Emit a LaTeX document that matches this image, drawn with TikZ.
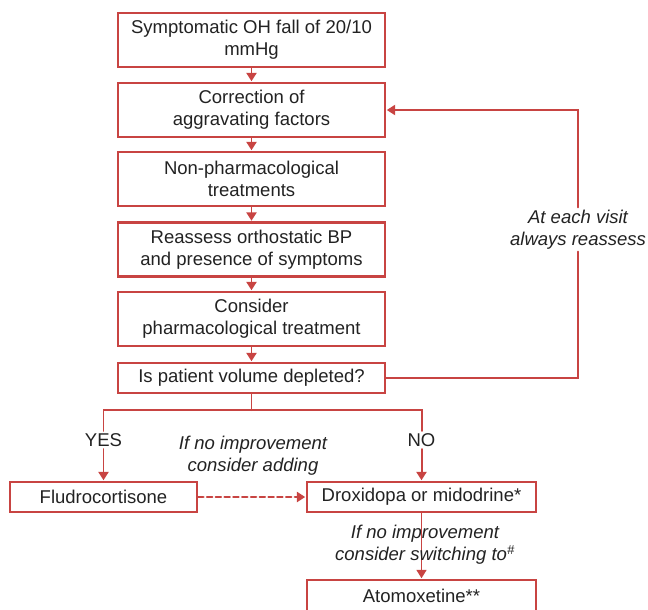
\documentclass[tikz,border=0pt]{standalone}
\usepackage{fontspec}
\setmainfont{Liberation Sans}
\usetikzlibrary{arrows.meta}
\definecolor{flowred}{RGB}{200,68,66}
\definecolor{flowtext}{RGB}{34,34,34}
\begin{document}
\begin{tikzpicture}[x=0.03cm,y=-0.03cm,line cap=round,
    box/.style={draw=flowred,line width=2pt,text=flowtext,align=center,
      inner sep=2pt,font=\fontsize{15.8}{18.8}\selectfont},
    link/.style={draw=flowred,line width=1.7pt},
    arr/.style={link,-{Triangle[length=0.25cm,width=0.3cm]},shorten >=0.5pt},
    note/.style={text=flowtext,align=center,inner sep=2pt,
      font=\fontsize{15.8}{18.8}\selectfont\itshape},
    tag/.style={text=flowtext,inner sep=2pt,font=\fontsize{15.8}{18.8}\selectfont}]
  \useasboundingbox (0,0) rectangle (648,609);
  % main column
  \node[box,minimum width=8.01cm,minimum height=1.62cm] (start) at (251.5,40)
    {Symptomatic OH fall of 20/10\\mmHg};
  \node[box,minimum width=8.01cm,minimum height=1.62cm] (correct) at (251.5,110)
    {Correction of\\aggravating factors};
  \node[box,minimum width=8.01cm,minimum height=1.62cm] (nonpharm) at (251.5,179)
    {Non-pharmacological\\treatments};
  \node[box,minimum width=8.01cm,minimum height=1.62cm] (reassess) at (251.5,249.5)
    {Reassess orthostatic BP\\and presence of symptoms};
  \node[box,minimum width=8.01cm,minimum height=1.62cm] (consider) at (251.5,319)
    {Consider\\pharmacological treatment};
  \node[box,minimum width=8.01cm,minimum height=0.9cm] (depleted) at (251.5,378)
    {Is patient volume depleted?};
  \foreach \a/\b in {start/correct,correct/nonpharm,nonpharm/reassess,reassess/consider,consider/depleted}
    \draw[arr] (\a) -- (\b);
  % feedback loop
  \node[note] (visit) at (578,229.5) {At each visit\\always reassess};
  \draw[link] (depleted.east) -| (visit.south);
  \draw[arr] (visit.north) |- (correct.east);
  % branches
  \node[box,minimum width=5.61cm,minimum height=0.9cm] (fludro) at (103.5,497)
    {Fludrocortisone};
  \node[box,minimum width=6.87cm,minimum height=0.9cm] (droxi) at (421.5,497)
    {Droxidopa or midodrine*};
  \node[box,minimum width=6.87cm,minimum height=0.96cm] (atomox) at (421.5,596)
    {Atomoxetine**};
  \coordinate (split) at (251.5,410);
  \node[tag] (yes) at (103.5,440) {YES};
  \node[tag] (no) at (421.5,440) {NO};
  \draw[link] (depleted.south) -- (split);
  \draw[link] (yes.north) |- (split) -| (no.north);
  \draw[arr] (yes.south) -- (fludro.north);
  \draw[arr] (no.south) -- (droxi.north);
  \node[note] (adding) at (253,456) {If no improvement\\consider adding};
  \draw[arr,line width=2pt,dash pattern=on 4.5pt off 3pt] (fludro.east) -- (droxi.west);
  \draw[arr,line width=1.1pt] (droxi.south) -- (atomox.north);
  \node[note] (switching) at (425,545) {If no improvement\\consider switching to\textsuperscript{\#}};
\end{tikzpicture}
\end{document}
